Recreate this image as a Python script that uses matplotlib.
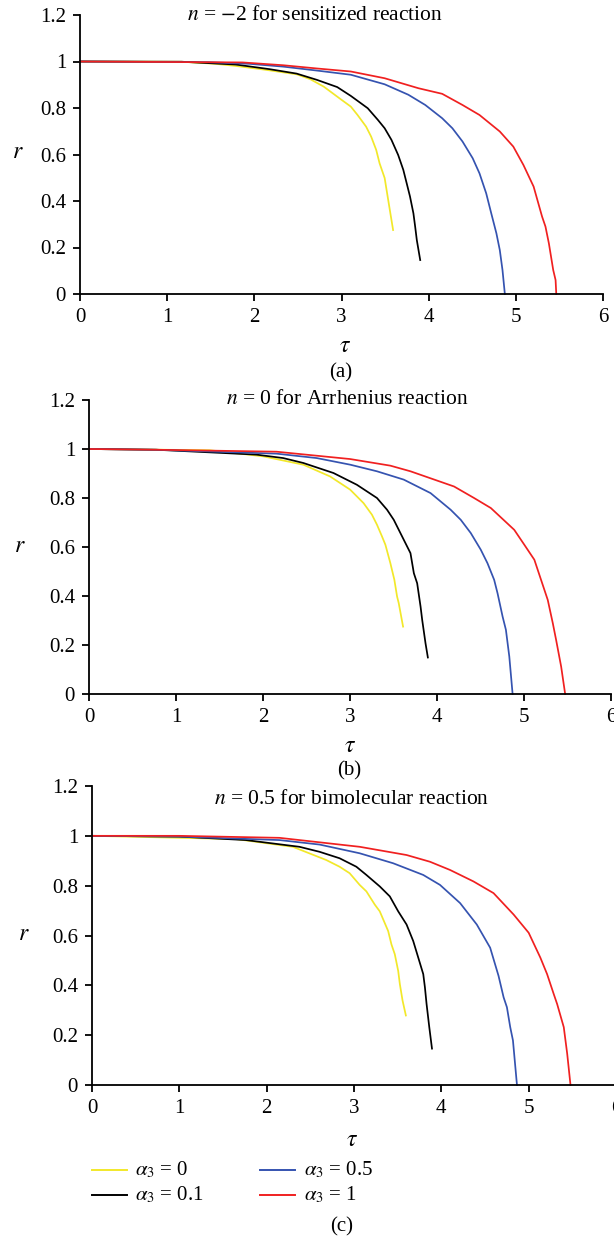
import matplotlib
matplotlib.use("Agg")
import matplotlib.pyplot as plt
from matplotlib.lines import Line2D

plt.rcParams['font.family'] = ['Liberation Serif', 'DejaVu Serif']
plt.rcParams['mathtext.fontset'] = 'stix'

# ---------------- data ----------------
# panel (a): n = -2
a_y_tau = [0, 1.165, 1.553, 1.786, 2.136, 2.485, 2.641, 2.796, 2.990, 3.107, 3.184, 3.282, 3.340, 3.398, 3.437, 3.495, 3.542, 3.592]
a_y_r = [1, 0.999, 0.990, 0.981, 0.964, 0.945, 0.924, 0.892, 0.838, 0.806, 0.770, 0.720, 0.677, 0.620, 0.562, 0.499, 0.390, 0.275]
a_k_tau = [0, 1.165, 1.786, 2.175, 2.485, 2.718, 2.951, 3.107, 3.301, 3.417, 3.495, 3.573, 3.650, 3.709, 3.748, 3.786, 3.825, 3.845, 3.864, 3.903]
a_k_r = [1, 0.999, 0.987, 0.967, 0.948, 0.921, 0.890, 0.852, 0.799, 0.749, 0.713, 0.663, 0.598, 0.534, 0.476, 0.419, 0.347, 0.290, 0.232, 0.146]
a_b_tau = [0, 1.476, 1.942, 2.330, 2.718, 3.107, 3.495, 3.767, 3.961, 4.155, 4.272, 4.388, 4.505, 4.583, 4.660, 4.718, 4.777, 4.816, 4.847, 4.874]
a_b_r = [1, 0.997, 0.990, 0.978, 0.961, 0.943, 0.902, 0.857, 0.813, 0.756, 0.713, 0.656, 0.584, 0.519, 0.433, 0.347, 0.261, 0.189, 0.103, 0.0]
a_r_tau = [0, 1.864, 2.330, 2.718, 3.107, 3.495, 3.883, 4.155, 4.388, 4.583, 4.816, 4.971, 5.087, 5.204, 5.301, 5.340, 5.379, 5.429, 5.456, 5.464]
a_r_r = [1, 0.996, 0.984, 0.970, 0.957, 0.928, 0.885, 0.861, 0.813, 0.770, 0.699, 0.634, 0.555, 0.462, 0.333, 0.290, 0.218, 0.103, 0.060, 0.0]

# panel (b): n = 0
b_y_tau = [0, 1.386, 2.002, 2.463, 2.771, 3.002, 3.156, 3.252, 3.310, 3.368, 3.407, 3.464, 3.510, 3.541, 3.560, 3.610]
b_y_r = [1, 0.995, 0.970, 0.936, 0.888, 0.834, 0.779, 0.732, 0.691, 0.643, 0.609, 0.534, 0.466, 0.398, 0.371, 0.275]
b_k_tau = [0, 0.770, 1.925, 2.232, 2.463, 2.810, 3.079, 3.310, 3.426, 3.503, 3.599, 3.695, 3.734, 3.772, 3.811, 3.830, 3.868, 3.895]
b_k_r = [1, 0.997, 0.977, 0.963, 0.943, 0.902, 0.854, 0.800, 0.752, 0.711, 0.643, 0.575, 0.493, 0.452, 0.357, 0.302, 0.207, 0.149]
b_b_tau = [0, 0.770, 2.155, 2.617, 3.002, 3.310, 3.618, 3.926, 4.157, 4.273, 4.388, 4.503, 4.580, 4.657, 4.696, 4.754, 4.792, 4.831, 4.869]
b_b_r = [1, 0.997, 0.981, 0.963, 0.936, 0.909, 0.875, 0.820, 0.752, 0.711, 0.657, 0.589, 0.534, 0.466, 0.411, 0.316, 0.262, 0.153, 0.0]
b_r_tau = [0, 0.770, 2.155, 3.002, 3.464, 3.695, 4.196, 4.426, 4.619, 4.888, 5.004, 5.119, 5.196, 5.273, 5.331, 5.369, 5.427, 5.473]
b_r_r = [1, 0.997, 0.989, 0.959, 0.932, 0.909, 0.847, 0.800, 0.759, 0.670, 0.609, 0.548, 0.466, 0.384, 0.289, 0.221, 0.112, 0.0]

# panel (c): n = 0.5
c_y_tau = [0, 1.648, 2.299, 2.682, 2.835, 2.950, 3.065, 3.142, 3.238, 3.295, 3.391, 3.429, 3.467, 3.506, 3.525, 3.556, 3.594]
c_y_r = [1, 0.987, 0.956, 0.903, 0.876, 0.850, 0.803, 0.777, 0.724, 0.697, 0.618, 0.564, 0.525, 0.458, 0.405, 0.339, 0.279]
c_k_tau = [0, 0.996, 1.762, 2.375, 2.605, 2.835, 3.027, 3.142, 3.295, 3.410, 3.506, 3.602, 3.678, 3.736, 3.793, 3.812, 3.831, 3.862, 3.893]
c_k_r = [1, 0.997, 0.983, 0.956, 0.936, 0.910, 0.876, 0.843, 0.797, 0.757, 0.697, 0.644, 0.578, 0.511, 0.445, 0.392, 0.325, 0.232, 0.146]
c_b_tau = [0, 0.996, 2.146, 2.605, 3.065, 3.448, 3.793, 3.985, 4.215, 4.406, 4.559, 4.655, 4.713, 4.751, 4.789, 4.820, 4.866]
c_b_r = [1, 0.997, 0.983, 0.965, 0.930, 0.890, 0.843, 0.803, 0.730, 0.644, 0.551, 0.438, 0.352, 0.312, 0.232, 0.179, 0.0]
c_r_tau = [0, 0.996, 2.146, 3.065, 3.602, 3.870, 4.100, 4.368, 4.598, 4.828, 5.000, 5.134, 5.211, 5.287, 5.326, 5.402, 5.441, 5.479]
c_r_r = [1, 1.0, 0.992, 0.956, 0.923, 0.896, 0.863, 0.817, 0.770, 0.684, 0.611, 0.511, 0.445, 0.365, 0.325, 0.232, 0.126, 0.0]

series_labels = [r'$\alpha_3$ = 0', r'$\alpha_3$ = 0.1', r'$\alpha_3$ = 0.5', r'$\alpha_3$ = 1']
series_colors = ['#f2e82a', '#000000', '#3553b0', '#f02020']
titles = [r'$n$ = $-$2 for sensitized reaction',
          r'$n$ = 0 for Arrhenius reaction',
          r'$n$ = 0.5 for bimolecular reaction']
panel_tags = ['(a)', '(b)', '(c)']
x_ticks = [0, 1, 2, 3, 4, 5, 6]
y_ticks = [0, 0.2, 0.4, 0.6, 0.8, 1.0, 1.2]
y_ticklabels = ['0', '0.2', '0.4', '0.6', '0.8', '1', '1.2']

panels = [
    [(a_y_tau, a_y_r), (a_k_tau, a_k_r), (a_b_tau, a_b_r), (a_r_tau, a_r_r)],
    [(b_y_tau, b_y_r), (b_k_tau, b_k_r), (b_b_tau, b_b_r), (b_r_tau, b_r_r)],
    [(c_y_tau, c_y_r), (c_k_tau, c_k_r), (c_b_tau, c_b_r), (c_r_tau, c_r_r)],
]

W, H = 614, 1239
fig = plt.figure(figsize=(W / 100, H / 100), dpi=100)

def fx(px):
    return px / W

def fy(py):
    return 1 - py / H

# axes boxes in pixels: left, right, top, bottom
boxes = [(80, 603, 15, 294), (89, 611, 400, 694), (92, 616, 786, 1085)]
title_pos = [(315, 15), (347, 400), (352, 800)]
tau_pos = [(345, 347), (350, 747), (352, 1140)]
tag_pos = [(341, 373), (349, 771), (342, 1227)]
rlab_pos = [(18, 153), (20, 547), (24, 935)]

FS = 15
for i, (l, r, t, b) in enumerate(boxes):
    ax = fig.add_axes([fx(l), fy(b), (r - l) / W, (b - t) / H])
    for (tau, rr), col in zip(panels[i], series_colors):
        ax.plot(tau, rr, color=col, lw=1.25, clip_on=False, solid_joinstyle='round')
    ax.set_xlim(0, 6)
    ax.set_ylim(0, 1.2)
    ax.set_xticks(x_ticks)
    ax.set_yticks(y_ticks)
    ax.set_yticklabels(y_ticklabels)
    for s in ['top', 'right']:
        ax.spines[s].set_visible(False)
    for s in ['left', 'bottom']:
        ax.spines[s].set_linewidth(1.3)
    ax.tick_params(direction='out', length=5, width=1.3, labelsize=FS, pad=5)
    fig.text(fx(title_pos[i][0]), fy(title_pos[i][1]), titles[i], ha='center', va='center', fontsize=FS + 0.5)
    fig.text(fx(tau_pos[i][0]), fy(tau_pos[i][1]), r'$\tau$', ha='center', va='center', fontsize=FS + 2)
    fig.text(fx(tag_pos[i][0]), fy(tag_pos[i][1]), panel_tags[i], ha='center', va='center', fontsize=FS)
    fig.text(fx(rlab_pos[i][0]), fy(rlab_pos[i][1]), r'$r$', ha='center', va='center', fontsize=FS + 2)

# legend (two columns, drawn in figure pixels)
leg_line_x = [(92, 127), (92, 127), (260, 295), (260, 295)]
leg_text_x = [135, 135, 304, 304]
leg_y = [1170, 1195, 1170, 1195]
for lab, col, (x0, x1), tx, yy in zip(series_labels, series_colors, leg_line_x, leg_text_x, leg_y):
    fig.add_artist(Line2D([fx(x0), fx(x1)], [fy(yy), fy(yy)], color=col, lw=1.4,
                          transform=fig.transFigure))
    fig.text(fx(tx), fy(yy), lab, ha='left', va='center', fontsize=FS)

fig.savefig('out.png', dpi=100)
